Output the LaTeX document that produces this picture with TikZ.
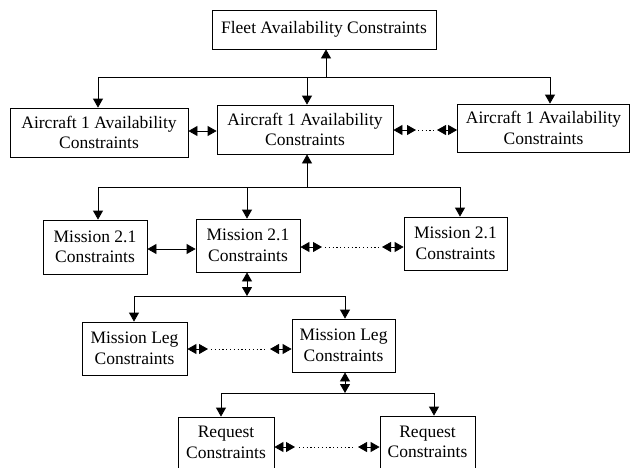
\documentclass[tikz,border=0pt]{standalone}
\usepackage{fontspec}
\setmainfont{Liberation Serif}
\usetikzlibrary{arrows.meta}
\begin{document}
\begin{tikzpicture}[x=1pt,y=-1pt,line width=0.8pt,
  box/.style={draw,rectangle,inner sep=0pt,align=center,font=\fontsize{17.5}{20.5}\selectfont},
  arr/.style={-{Triangle[length=9pt,width=10pt]}},
  dbl/.style={{Triangle[length=9pt,width=10pt]}-{Triangle[length=9pt,width=10pt]}},
  dots/.style={dash pattern=on 1.2pt off 2.6pt}]
\useasboundingbox (0,0) rectangle (631,467);
\clip (0,0) rectangle (631,467);
% boxes
\node[box,minimum width=224pt,minimum height=39pt] (F) at (324,29.5) {Fleet Availability Constraints};
\node[box,minimum width=178pt,minimum height=49pt] (A1) at (99,132.5) {Aircraft 1 Availability\\Constraints};
\node[box,minimum width=176pt,minimum height=49pt] (A2) at (305,129.5) {Aircraft 1 Availability\\Constraints};
\node[box,minimum width=172pt,minimum height=48pt] (A3) at (543.5,128) {Aircraft 1 Availability\\Constraints};
\node[box,minimum width=104pt,minimum height=54pt] (M1) at (95,247) {Mission 2.1\\Constraints};
\node[box,minimum width=104pt,minimum height=53pt] (M2) at (248,245.5) {Mission 2.1\\Constraints};
\node[box,minimum width=103pt,minimum height=53pt] (M3) at (455.5,243.5) {Mission 2.1\\Constraints};
\node[box,minimum width=105pt,minimum height=53pt] (L1) at (134.5,348.5) {Mission Leg\\Constraints};
\node[box,minimum width=103pt,minimum height=53pt] (L2) at (343.5,345.5) {Mission Leg\\Constraints};
\node[box,minimum width=96pt,minimum height=51pt] (R1) at (226,442.5) {Request\\Constraints};
\node[box,minimum width=95pt,minimum height=52pt] (R2) at (427.5,442) {Request\\Constraints};
% level 1 bus
\coordinate (b1f) at (326,77);
\coordinate (b1a) at (98,77);
\coordinate (b1b) at (307,77);
\coordinate (b1c) at (550,77);
\draw (b1a) -- (b1c);
\draw[arr] (b1f) -- (b1f |- F.south);
\draw[arr] (b1a) -- (b1a |- A1.north);
\draw[arr] (b1b) -- (b1b |- A2.north);
\draw[arr] (b1c) -- (b1c |- A3.north);
% aircraft row links
\coordinate (ya) at (0,131);
\draw[dbl] (A1.east |- ya) -- (A2.west |- ya);
\coordinate (a23l) at (416,130);
\coordinate (a23r) at (437,130);
\draw[dbl] (A2.east |- a23l) -- (a23l);
\draw[dots] ([xshift=2pt]a23l) -- ([xshift=-2pt]a23r);
\draw[dbl] (a23r) -- (A3.west |- a23r);
% level 2 bus
\coordinate (b2u) at (307,187);
\coordinate (b2a) at (98,187);
\coordinate (b2b) at (247,187);
\coordinate (b2c) at (460,187);
\draw (b2a) -- (b2c);
\draw[arr] (b2u) -- (b2u |- A2.south);
\draw[arr] (b2a) -- (b2a |- M1.north);
\draw[arr] (b2b) -- (b2b |- M2.north);
\draw[arr] (b2c) -- (b2c |- M3.north);
% mission row links
\coordinate (ym) at (0,249);
\draw[dbl] (M1.east |- ym) -- (M2.west |- ym);
\coordinate (m23l) at (322,247);
\coordinate (m23r) at (382,247);
\draw[dbl] (M2.east |- m23l) -- (m23l);
\draw[dots] ([xshift=3pt]m23l) -- ([xshift=-3pt]m23r);
\draw[dbl] (m23r) -- (M3.west |- m23r);
% level 3 bus
\coordinate (b3m) at (247,296);
\coordinate (b3a) at (134,296);
\coordinate (b3b) at (345,296);
\draw (b3a) -- (b3b);
\draw[dbl] (b3m |- M2.south) -- (b3m);
\draw[arr] (b3a) -- (b3a |- L1.north);
\draw[arr] (b3b) -- (b3b |- L2.north);
% leg row links
\coordinate (l12l) at (208,349);
\coordinate (l12r) at (270,349);
\draw[dbl] (L1.east |- l12l) -- (l12l);
\draw[dots] ([xshift=3pt]l12l) -- ([xshift=-3pt]l12r);
\draw[dbl] (l12r) -- (L2.west |- l12r);
% level 4 bus
\coordinate (b4m) at (345,393);
\coordinate (b4a) at (221,393);
\coordinate (b4b) at (434,393);
\draw (b4a) -- (b4b);
\draw[dbl] (b4m |- L2.south) -- (b4m);
\draw[arr] (b4a) -- (b4a |- R1.north);
\draw[arr] (b4b) -- (b4b |- R2.north);
% request row links
\coordinate (r12l) at (295,447);
\coordinate (r12r) at (358,447);
\draw[dbl] (R1.east |- r12l) -- (r12l);
\draw[dots] ([xshift=4pt]r12l) -- ([xshift=-4pt]r12r);
\draw[dbl] (r12r) -- (R2.west |- r12r);
\end{tikzpicture}
\end{document}
